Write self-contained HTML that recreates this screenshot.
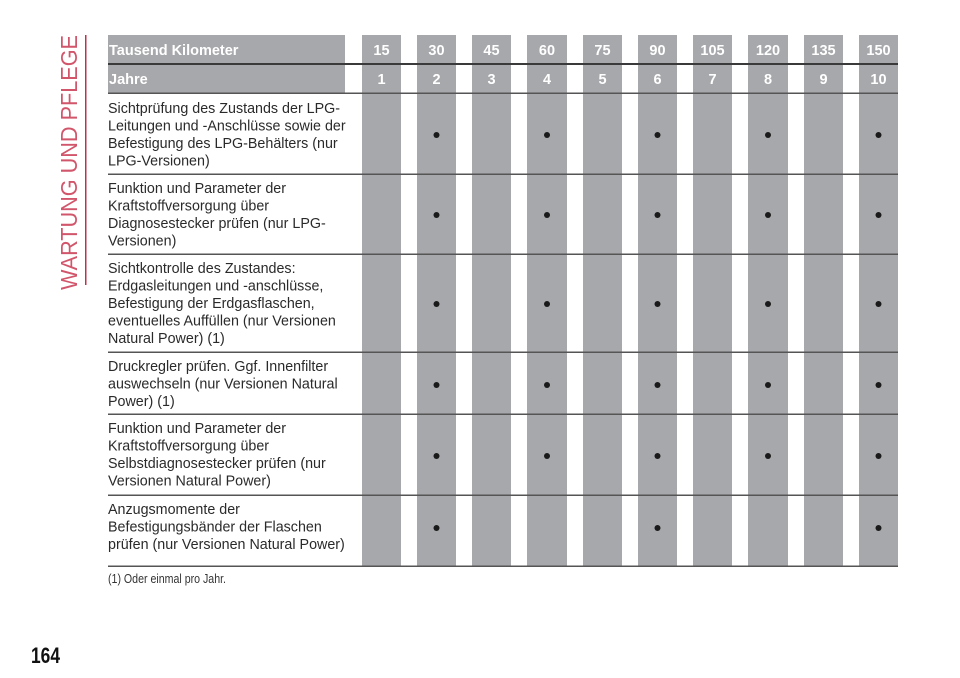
<!DOCTYPE html>
<html><head><meta charset="utf-8"><style>
html,body{margin:0;padding:0;background:#fff;}
svg{display:block;font-family:"Liberation Sans",Arial,sans-serif;}
</style></head><body>
<svg width="960" height="678" viewBox="0 0 960 678" xmlns="http://www.w3.org/2000/svg">
<rect x="85" y="35" width="1.5" height="250" fill="#c0304a"/>
<text transform="translate(77,290) rotate(-90)" font-size="23.5" fill="#d2566b" textLength="255" lengthAdjust="spacingAndGlyphs">WARTUNG UND PFLEGE</text>
<rect x="108" y="35" width="237" height="58" fill="#a7a8ab"/>
<g fill="#a7a8ab">
<rect x="362" y="35" width="39" height="531"/>
<rect x="417" y="35" width="39" height="531"/>
<rect x="472" y="35" width="39" height="531"/>
<rect x="527" y="35" width="40" height="531"/>
<rect x="583" y="35" width="39" height="531"/>
<rect x="638" y="35" width="39" height="531"/>
<rect x="693" y="35" width="39" height="531"/>
<rect x="748" y="35" width="40" height="531"/>
<rect x="804" y="35" width="39" height="531"/>
<rect x="859" y="35" width="39" height="531"/>
</g>
<rect x="108" y="63" width="790" height="2" fill="#3a3a3a"/>
<g fill="#555">
<rect x="108" y="92.5" width="790" height="1.5"/>
<rect x="108" y="173.5" width="790" height="1.5"/>
<rect x="108" y="253.5" width="790" height="1.5"/>
<rect x="108" y="351.5" width="790" height="1.5"/>
<rect x="108" y="413.5" width="790" height="1.5"/>
<rect x="108" y="494.5" width="790" height="1.5"/>
<rect x="108" y="565.5" width="790" height="1.5"/>
</g>
<g fill="#fff" font-size="14.5" font-weight="bold">
<text x="109" y="55">Tausend Kilometer</text>
<text x="109" y="84">Jahre</text>
<g text-anchor="middle">
<text x="381.5" y="55">15</text><text x="436.5" y="55">30</text><text x="491.5" y="55">45</text><text x="547" y="55">60</text><text x="602.5" y="55">75</text><text x="657.5" y="55">90</text><text x="712.5" y="55">105</text><text x="768" y="55">120</text><text x="823.5" y="55">135</text><text x="878.5" y="55">150</text>
<text x="381.5" y="84">1</text><text x="436.5" y="84">2</text><text x="491.5" y="84">3</text><text x="547" y="84">4</text><text x="602.5" y="84">5</text><text x="657.5" y="84">6</text><text x="712.5" y="84">7</text><text x="768" y="84">8</text><text x="823.5" y="84">9</text><text x="878.5" y="84">10</text>
</g></g>
<g fill="#2a2a2a" font-size="14.3">
<text x="108" y="113">Sichtprüfung des Zustands der LPG-</text>
<text x="108" y="130.5">Leitungen und -Anschlüsse sowie der</text>
<text x="108" y="148">Befestigung des LPG-Behälters (nur</text>
<text x="108" y="165.5">LPG-Versionen)</text>
<text x="108" y="193">Funktion und Parameter der</text>
<text x="108" y="210.5">Kraftstoffversorgung über</text>
<text x="108" y="228">Diagnosestecker prüfen (nur LPG-</text>
<text x="108" y="245.5">Versionen)</text>
<text x="108" y="273">Sichtkontrolle des Zustandes:</text>
<text x="108" y="290.5">Erdgasleitungen und -anschlüsse,</text>
<text x="108" y="308">Befestigung der Erdgasflaschen,</text>
<text x="108" y="325.5">eventuelles Auffüllen (nur Versionen</text>
<text x="108" y="343">Natural Power) (1)</text>
<text x="108" y="371">Druckregler prüfen. Ggf. Innenfilter</text>
<text x="108" y="388.5">auswechseln (nur Versionen Natural</text>
<text x="108" y="406">Power) (1)</text>
<text x="108" y="433">Funktion und Parameter der</text>
<text x="108" y="450.5">Kraftstoffversorgung über</text>
<text x="108" y="468">Selbstdiagnosestecker prüfen (nur</text>
<text x="108" y="485.5">Versionen Natural Power)</text>
<text x="108" y="514">Anzugsmomente der</text>
<text x="108" y="531.5">Befestigungsbänder der Flaschen</text>
<text x="108" y="549">prüfen (nur Versionen Natural Power)</text>
</g>
<g fill="#1a1a1a">
<circle cx="436.5" cy="135" r="3"/><circle cx="547" cy="135" r="3"/><circle cx="657.5" cy="135" r="3"/><circle cx="768" cy="135" r="3"/><circle cx="878.5" cy="135" r="3"/>
<circle cx="436.5" cy="215" r="3"/><circle cx="547" cy="215" r="3"/><circle cx="657.5" cy="215" r="3"/><circle cx="768" cy="215" r="3"/><circle cx="878.5" cy="215" r="3"/>
<circle cx="436.5" cy="304" r="3"/><circle cx="547" cy="304" r="3"/><circle cx="657.5" cy="304" r="3"/><circle cx="768" cy="304" r="3"/><circle cx="878.5" cy="304" r="3"/>
<circle cx="436.5" cy="385" r="3"/><circle cx="547" cy="385" r="3"/><circle cx="657.5" cy="385" r="3"/><circle cx="768" cy="385" r="3"/><circle cx="878.5" cy="385" r="3"/>
<circle cx="436.5" cy="456" r="3"/><circle cx="547" cy="456" r="3"/><circle cx="657.5" cy="456" r="3"/><circle cx="768" cy="456" r="3"/><circle cx="878.5" cy="456" r="3"/>
<circle cx="436.5" cy="528" r="3"/><circle cx="657.5" cy="528" r="3"/><circle cx="878.5" cy="528" r="3"/>
</g>
<text x="108" y="583" font-size="12.5" fill="#333" textLength="118" lengthAdjust="spacingAndGlyphs">(1) Oder einmal pro Jahr.</text>
<text x="31" y="663" font-size="22" font-weight="bold" fill="#111" textLength="29" lengthAdjust="spacingAndGlyphs">164</text>
</svg>
</body></html>
